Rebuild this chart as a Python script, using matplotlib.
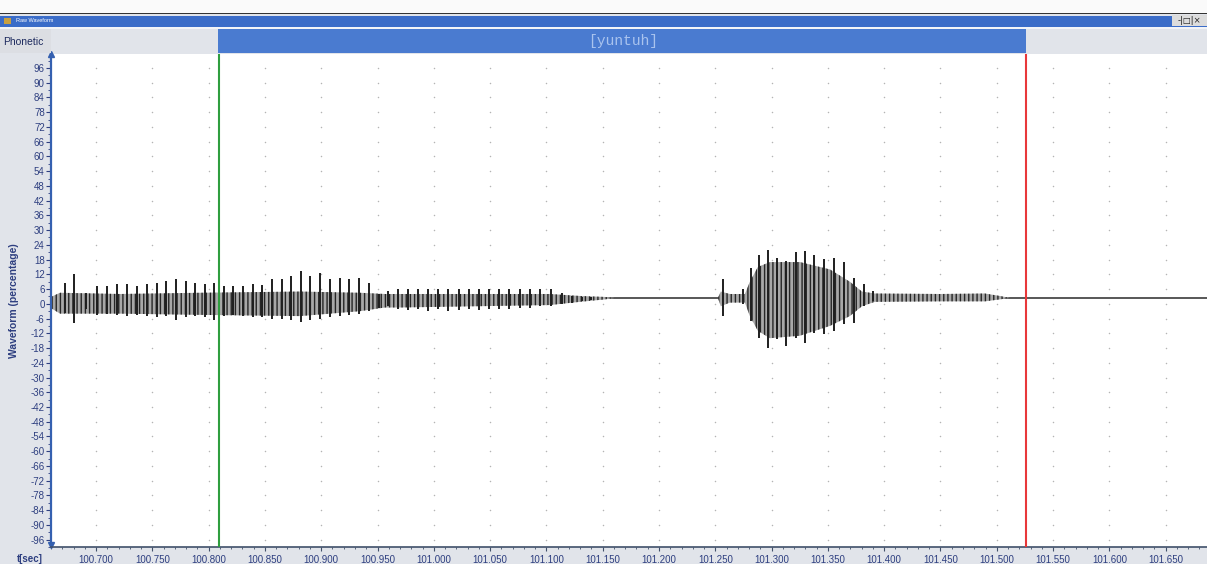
import matplotlib
matplotlib.use("Agg")
import matplotlib.pyplot as plt
from matplotlib.patches import Rectangle
import numpy as np

# glottal pulses: time (s), peak above and below the baseline (percentage)
pulse_t = [100.6725, 100.6805, 100.6911, 100.7009, 100.7098, 100.7186, 100.7275,
           100.7364, 100.7453, 100.7542, 100.7622, 100.7710, 100.7799, 100.7879,
           100.7968, 100.8048, 100.8137, 100.8216, 100.8305, 100.8394, 100.8474,
           100.8563, 100.8652, 100.8731, 100.8820, 100.8900, 100.8989, 100.9078,
           100.9166, 100.9246, 100.9335, 100.9424, 100.9513, 100.9593,
           100.9681, 100.9770, 100.9859, 100.9948, 101.0037, 101.0125, 101.0223,
           101.0312, 101.0401, 101.0489, 101.0578, 101.0667, 101.0765, 101.0853,
           101.0942, 101.1040, 101.1138, 101.1226, 101.1315, 101.1395,
           101.2567, 101.2745, 101.2816, 101.2887, 101.2967, 101.3047, 101.3126,
           101.3215, 101.3295, 101.3375, 101.3464, 101.3553, 101.3641, 101.3730,
           101.3819, 101.3899]
pulse_top = [8.5, 12.2, 4.5, 7.3, 7.3, 8.1, 8.1, 7.3, 8.1, 8.5, 9.4, 10.2, 9.4, 8.5,
             8.1, 8.5, 7.3, 7.3, 7.3, 8.1, 7.7, 10.2, 10.2, 11.4, 13.4, 11.4, 12.6,
             10.2, 10.6, 10.2, 10.6, 8.5, 4.1, 5.3,
             6.1, 6.1, 6.1, 6.1, 6.1, 6.1, 6.1, 6.1, 6.1, 6.1, 6.1, 6.1, 6.1, 6.1,
             6.1, 6.1, 4.5, 3.3, 2.8, 2.8,
             10.2, 6.1, 14.6, 19.9, 22.0, 18.7, 17.5, 21.2, 21.6, 19.9, 18.3, 18.7,
             17.1, 10.6, 8.1, 5.3]
pulse_bot = [-3.7, -7.7, -2.0, -4.5, -4.0, -4.5, -5.0, -4.5, -5.0, -5.5, -5.0, -6.5,
             -5.5, -5.0, -5.5, -6.5, -5.0, -4.5, -5.0, -5.5, -5.5, -6.0, -6.0, -6.5,
             -7.5, -6.5, -6.0, -5.5, -5.0, -4.5, -4.0, -3.0, -1.5, -1.0,
             -2.0, -2.5, -2.0, -3.0, -2.0, -3.0, -2.5, -2.0, -2.5, -2.0, -2.0, -2.0,
             -1.5, -1.5, -1.0, -1.0, 0.0, 0.5, 1.0, 1.5,
             -4.9, 0.0, -6.9, -13.8, -17.9, -14.2, -17.1, -13.8, -15.9, -11.8, -12.2,
             -11.0, -8.1, -7.7, -0.8, 1.0]

# envelope of the dense part of the signal between pulses
band_t = [100.6609, 100.6680, 100.7213, 100.7923, 100.8811, 100.9344, 100.9566,
          100.9699, 101.1031, 101.1297, 101.1519, 101.1608,
          101.2523, 101.2549, 101.2629, 101.2763, 101.2807, 101.2878, 101.2985,
          101.3251, 101.3518, 101.3695, 101.3802, 101.3917, 101.4494, 101.4894,
          101.5027, 101.5116]
band_hi = [3.0, 4.5, 4.0, 4.5, 5.0, 4.5, 4.0, 4.0, 4.0, 3.2, 2.8, 2.4,
           2.4, 5.0, 4.0, 4.0, 9.0, 15.0, 17.0, 17.0, 14.0, 9.0, 5.0, 4.2, 4.0,
           4.2, 3.2, 2.4]
band_lo = [-2.0, -4.0, -4.0, -4.5, -5.0, -3.0, -1.5, -1.5, -0.5, 0.8, 1.8, 2.4,
           2.4, -1.0, 0.5, 0.5, -5.0, -11.0, -14.0, -13.0, -9.0, -5.0, -1.0, 0.8,
           1.0, 1.0, 1.8, 2.4]
baseline = 2.4

x_ticks = [100.70 + 0.05 * i for i in range(20)]
y_ticks = list(range(-96, 97, 6))
cursor_left = 100.8095
cursor_right = 101.5259
segment_label = "[yuntuh]"
x_range = (100.6600, 101.6867)
y_range = (-97.6, 101.7)

W, H = 1207, 564
navy = "#2e3f80"
plt.rcParams["font.family"] = ["Liberation Sans", "DejaVu Sans"]
plt.rcParams["hatch.linewidth"] = 1.0

fig = plt.figure(figsize=(W / 100, H / 100), dpi=100)
fig.patch.set_facecolor("#e1e4ea")

def fx(px):
    return px / W

def fy(py):
    return 1 - py / H

# window chrome: white strip, title bar, buttons
fig.add_artist(Rectangle((0, fy(13)), 1, 13 / H, transform=fig.transFigure,
                         color="#fafafa", lw=0))
fig.add_artist(Rectangle((0, fy(14)), 1, 1.2 / H, transform=fig.transFigure,
                         color="#333333", lw=0))
fig.add_artist(Rectangle((0, fy(27)), 1, 11 / H, transform=fig.transFigure,
                         color="#3a6cc8", lw=0))
fig.add_artist(Rectangle((0, fy(29)), 1, 2 / H, transform=fig.transFigure,
                         color="#f2f4f8", lw=0))
fig.add_artist(Rectangle((fx(4), fy(24)), 7 / W, 6 / H, transform=fig.transFigure,
                         color="#c8a040", lw=0))
fig.text(fx(16), fy(21), "Raw Waveform", color="white", fontsize=4, va="center")
fig.add_artist(Rectangle((fx(1172), fy(26)), 35 / W, 11 / H, transform=fig.transFigure,
                         color="#dcdcdc", lw=0))
fig.text(fx(1189), fy(20.5), "-|\u25a1|\u00d7", color="#222222", fontsize=6,
         ha="center", va="center", family="DejaVu Sans")

# phonetic tier
fig.add_artist(Rectangle((0, fy(53)), fx(51), 24 / H, transform=fig.transFigure,
                         color="#dcdee3", lw=0))
fig.text(fx(3), fy(42), "Phonetic", color="#1d2a5e", fontsize=7.5, va="center")
ax_ph = fig.add_axes([fx(51), fy(53), 1 - fx(51), 24 / H])
ax_ph.set_facecolor("#dcdee3")
ax_ph.set_xlim(*x_range)
ax_ph.set_ylim(0, 1)
ax_ph.axvspan(cursor_left - 0.0015, cursor_right, color="#4a7bd0", lw=0)
ax_ph.text((cursor_left + cursor_right) / 2, 0.5, segment_label, color="#a9c3ee",
           family="Liberation Mono", fontsize=10.5, ha="center", va="center")
ax_ph.set_axis_off()

# waveform panel
ax = fig.add_axes([fx(51), fy(547), 1 - fx(51), 493 / H])
ax.set_facecolor("white")
ax.set_xlim(*x_range)
ax.set_ylim(*y_range)

gx, gy = np.meshgrid(x_ticks, y_ticks)
ax.scatter(gx.ravel(), gy.ravel(), s=1.2, color="#b4b4b4", lw=0, zorder=0)

ax.axhline(baseline, color="#2a2a2a", lw=1.1, zorder=2)
# dense oscillation shown as a striped band (hatch density 6 lines/inch per '|')
ax.fill_between(band_t, band_lo, band_hi, facecolor="#a8a8a8", edgecolor="#262626",
                hatch="||||", lw=0, zorder=3)
ax.vlines(pulse_t, pulse_bot, pulse_top, color="#1e1e1e", lw=1.4, zorder=4)

ax.axvline(cursor_left, color="#2f9e3f", lw=1.5, zorder=5)
ax.axvline(cursor_right, color="#e8383a", lw=1.5, zorder=5)

ax.set_yticks(y_ticks)
ax.set_yticklabels([str(v) for v in y_ticks])
ax.set_yticks(list(range(-99, 100, 3)), minor=True)
ax.set_xticks(x_ticks)
ax.set_xticklabels(["%.3f" % v for v in x_ticks])
ax.set_xticks([100.66 + 0.01 * i for i in range(103)], minor=True)
ax.tick_params(axis="y", which="major", direction="out", length=3.5, width=0.8,
               color=navy, labelcolor=navy, labelsize=7, pad=1)
ax.tick_params(axis="y", which="minor", direction="out", length=2, width=0.6, color=navy)
ax.tick_params(axis="x", which="major", direction="out", length=3, width=0.8,
               color="#40506a", labelcolor=navy, labelsize=7, pad=3)
ax.tick_params(axis="x", which="minor", direction="out", length=1.5, width=0.6,
               color="#40506a")
for side in ("top", "right"):
    ax.spines[side].set_visible(False)
ax.spines["left"].set_color("#3560b0")
ax.spines["left"].set_linewidth(1.6)
ax.spines["bottom"].set_color("#40506a")
ax.spines["bottom"].set_linewidth(1.2)
ax.plot([0], [1], marker="^", color="#3560b0", ms=4, transform=ax.transAxes,
        clip_on=False)
ax.plot([0], [0.005], marker="v", color="#3560b0", ms=4, transform=ax.transAxes,
        clip_on=False)

ax.set_ylabel("Waveform (percentage)", color=navy, fontsize=7.5, fontweight="bold")
ax.yaxis.set_label_coords(-0.028, 0.5)
fig.text(fx(30), fy(559), "t[sec]", color=navy, fontsize=7, fontweight="bold",
         ha="center", va="center")

fig.savefig("out.png", dpi=100, facecolor=fig.get_facecolor())
